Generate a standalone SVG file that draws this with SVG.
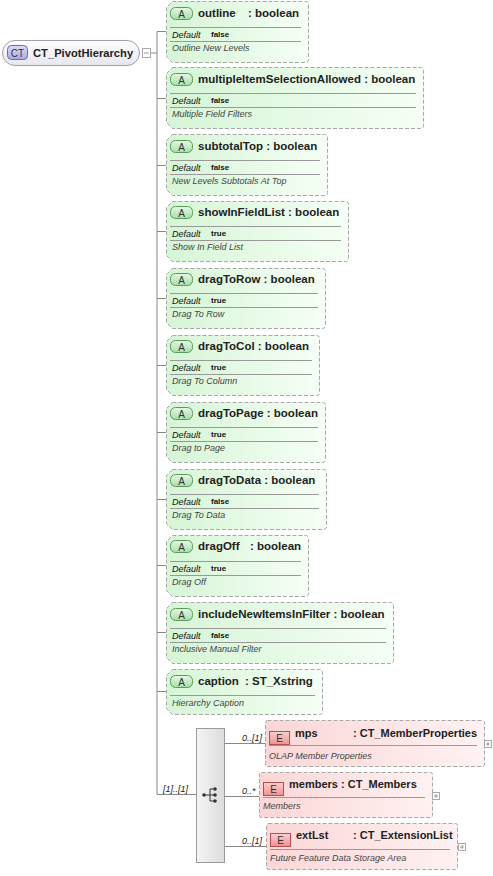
<svg xmlns="http://www.w3.org/2000/svg" width="493" height="876" viewBox="0 0 493 876">
<defs>
<linearGradient id="gA" x1="0" y1="0" x2="1" y2="0"><stop offset="0" stop-color="#d6f5d6"/><stop offset="1" stop-color="#f6fff6"/></linearGradient>
<linearGradient id="gE" x1="0" y1="0" x2="1" y2="0"><stop offset="0" stop-color="#fbd6d6"/><stop offset="1" stop-color="#fff2f2"/></linearGradient>
<linearGradient id="gBA" x1="0" y1="0" x2="0" y2="1"><stop offset="0" stop-color="#e4fae4"/><stop offset="1" stop-color="#a8dca8"/></linearGradient>
<linearGradient id="gBE" x1="0" y1="0" x2="0" y2="1"><stop offset="0" stop-color="#fcd0d0"/><stop offset="1" stop-color="#f09090"/></linearGradient>
<linearGradient id="gCT" x1="0" y1="0" x2="0" y2="1"><stop offset="0" stop-color="#dcdcfa"/><stop offset="1" stop-color="#a8a8e6"/></linearGradient>
<linearGradient id="gRoot" x1="0" y1="0" x2="0" y2="1"><stop offset="0" stop-color="#ffffff"/><stop offset="1" stop-color="#e6e6f0"/></linearGradient>
<linearGradient id="gSeq" x1="0" y1="0" x2="1" y2="0"><stop offset="0" stop-color="#f4f4f4"/><stop offset="1" stop-color="#dcdcdc"/></linearGradient>
</defs>
<style>
.ab{fill:url(#gA);stroke:#a8a8a8;stroke-width:1;stroke-dasharray:4,2}
.eb{fill:url(#gE);stroke:#a8a8a8;stroke-width:1;stroke-dasharray:4,2}
.ba{fill:url(#gBA);stroke:#5a9a5a;stroke-width:1}
.be{fill:url(#gBE);stroke:#b05050;stroke-width:1}
.bt{font-family:"Liberation Sans",Arial,sans-serif;font-size:10px;fill:#333;text-anchor:middle}
.hd{font-family:"Liberation Sans",Arial,sans-serif;font-size:11.5px;font-weight:bold;fill:#222}
.hr{font-family:"Liberation Sans",Arial,sans-serif;font-size:11.2px;font-weight:bold;fill:#222}
.he{font-family:"Liberation Sans",Arial,sans-serif;font-size:11px;font-weight:bold;fill:#222}
.sep{stroke:#999;stroke-width:1}
.df{font-family:"Liberation Sans",Arial,sans-serif;font-size:9px;font-style:italic;fill:#111}
.dv{font-family:"Liberation Sans",Arial,sans-serif;font-size:8px;font-weight:bold;fill:#111}
.ds{font-family:"Liberation Sans",Arial,sans-serif;font-size:9px;font-style:italic;fill:#444}
.cn{stroke:#888;stroke-width:1;fill:none}
.lb{font-family:"Liberation Sans",Arial,sans-serif;font-size:9px;font-style:italic;fill:#222}
.pl{fill:#fff;stroke:#aaa;stroke-width:1}
.pls{stroke:#999;stroke-width:1}
</style>

<g id="connectors">
<line class="cn" x1="151" y1="53" x2="157" y2="53"/>
<line class="cn" x1="157" y1="31.5" x2="157" y2="794.5"/>
<line class="cn" x1="157" y1="31.5" x2="166" y2="31.5"/>
<line class="cn" x1="157" y1="98.5" x2="166" y2="98.5"/>
<line class="cn" x1="157" y1="165.5" x2="166" y2="165.5"/>
<line class="cn" x1="157" y1="231.5" x2="166" y2="231.5"/>
<line class="cn" x1="157" y1="298.5" x2="166" y2="298.5"/>
<line class="cn" x1="157" y1="365.5" x2="166" y2="365.5"/>
<line class="cn" x1="157" y1="432.5" x2="166" y2="432.5"/>
<line class="cn" x1="157" y1="499.5" x2="166" y2="499.5"/>
<line class="cn" x1="157" y1="565.5" x2="166" y2="565.5"/>
<line class="cn" x1="157" y1="632.5" x2="166" y2="632.5"/>
<line class="cn" x1="157" y1="691.5" x2="166" y2="691.5"/>
<line class="cn" x1="157" y1="794.5" x2="196" y2="794.5"/>
<text class="lb" x="163" y="792">[1]..[1]</text>
<line class="cn" x1="225" y1="743.5" x2="265" y2="743.5"/>
<text class="lb" x="242" y="741">0..[1]</text>
<line class="cn" x1="225" y1="796.5" x2="259" y2="796.5"/>
<text class="lb" x="242" y="794">0..*</text>
<line class="cn" x1="225" y1="846.5" x2="266" y2="846.5"/>
<text class="lb" x="242" y="844">0..[1]</text>
</g>

<g id="CT_PivotHierarchy">
<rect x="2.5" y="40.5" width="137" height="25" rx="12.5" fill="url(#gRoot)" stroke="#a0a0b0"/>
<rect x="7.5" y="45.5" width="20" height="14" rx="4" fill="url(#gCT)" stroke="#6a6ab0"/>
<text class="bt" x="17.5" y="56.5">CT</text>
<text class="hr" x="33" y="57">CT_PivotHierarchy</text>
<rect x="142.5" y="48.5" width="8" height="9" fill="#fff" stroke="#aaa"/>
<line class="pls" x1="144" y1="53" x2="149" y2="53"/>
</g>

<g id="outline">
<path class="ab" d="M172.5,1.5 H305.5 Q308.5,1.5 308.5,4.5 V59.5 Q308.5,62.5 305.5,62.5 H172.5 L166.5,56.5 V7.5 Z"/>
<rect class="ba" x="170.5" y="7.5" width="22" height="12" rx="5"/>
<text class="bt" x="181.5" y="17.5">A</text>
<text class="hd" x="198" y="17">outline</text><text class="hd" x="248" y="17">: boolean</text>
<line class="sep" x1="170" y1="27.5" x2="301" y2="27.5"/>
<text class="df" x="172" y="38">Default</text><text class="dv" x="211" y="37">false</text>
<line class="sep" x1="170" y1="41.5" x2="301" y2="41.5"/>
<text class="ds" x="172" y="51">Outline New Levels</text>
</g>

<g id="multipleItemSelectionAllowed">
<path class="ab" d="M172.5,67.5 H420.5 Q423.5,67.5 423.5,70.5 V125.5 Q423.5,128.5 420.5,128.5 H172.5 L166.5,122.5 V73.5 Z"/>
<rect class="ba" x="170.5" y="73.5" width="22" height="12" rx="5"/>
<text class="bt" x="181.5" y="83.5">A</text>
<text class="hd" x="198" y="83">multipleItemSelectionAllowed : boolean</text>
<line class="sep" x1="170" y1="93.5" x2="416" y2="93.5"/>
<text class="df" x="172" y="104">Default</text><text class="dv" x="211" y="103">false</text>
<line class="sep" x1="170" y1="107.5" x2="416" y2="107.5"/>
<text class="ds" x="172" y="117">Multiple Field Filters</text>
</g>

<g id="subtotalTop">
<path class="ab" d="M172.5,134.5 H324.5 Q327.5,134.5 327.5,137.5 V192.5 Q327.5,195.5 324.5,195.5 H172.5 L166.5,189.5 V140.5 Z"/>
<rect class="ba" x="170.5" y="140.5" width="22" height="12" rx="5"/>
<text class="bt" x="181.5" y="150.5">A</text>
<text class="hd" x="198" y="150">subtotalTop : boolean</text>
<line class="sep" x1="170" y1="160.5" x2="320" y2="160.5"/>
<text class="df" x="172" y="171">Default</text><text class="dv" x="211" y="170">false</text>
<line class="sep" x1="170" y1="174.5" x2="320" y2="174.5"/>
<text class="ds" x="172" y="184">New Levels Subtotals At Top</text>
</g>

<g id="showInFieldList">
<path class="ab" d="M172.5,201.5 H345.5 Q348.5,201.5 348.5,204.5 V258.5 Q348.5,261.5 345.5,261.5 H172.5 L166.5,255.5 V207.5 Z"/>
<rect class="ba" x="170.5" y="206.5" width="22" height="12" rx="5"/>
<text class="bt" x="181.5" y="216.5">A</text>
<text class="hd" x="198" y="216">showInFieldList : boolean</text>
<line class="sep" x1="170" y1="226.5" x2="341" y2="226.5"/>
<text class="df" x="172" y="237">Default</text><text class="dv" x="211" y="236">true</text>
<line class="sep" x1="170" y1="240.5" x2="341" y2="240.5"/>
<text class="ds" x="172" y="250">Show In Field List</text>
</g>

<g id="dragToRow">
<path class="ab" d="M172.5,268.5 H322.5 Q325.5,268.5 325.5,271.5 V325.5 Q325.5,328.5 322.5,328.5 H172.5 L166.5,322.5 V274.5 Z"/>
<rect class="ba" x="170.5" y="273.5" width="22" height="12" rx="5"/>
<text class="bt" x="181.5" y="283.5">A</text>
<text class="hd" x="198" y="283">dragToRow : boolean</text>
<line class="sep" x1="170" y1="293.5" x2="318" y2="293.5"/>
<text class="df" x="172" y="304">Default</text><text class="dv" x="211" y="303">true</text>
<line class="sep" x1="170" y1="307.5" x2="318" y2="307.5"/>
<text class="ds" x="172" y="317">Drag To Row</text>
</g>

<g id="dragToCol">
<path class="ab" d="M172.5,335.5 H316.5 Q319.5,335.5 319.5,338.5 V392.5 Q319.5,395.5 316.5,395.5 H172.5 L166.5,389.5 V341.5 Z"/>
<rect class="ba" x="170.5" y="340.5" width="22" height="12" rx="5"/>
<text class="bt" x="181.5" y="350.5">A</text>
<text class="hd" x="198" y="350">dragToCol : boolean</text>
<line class="sep" x1="170" y1="360.5" x2="312" y2="360.5"/>
<text class="df" x="172" y="371">Default</text><text class="dv" x="211" y="370">true</text>
<line class="sep" x1="170" y1="374.5" x2="312" y2="374.5"/>
<text class="ds" x="172" y="384">Drag To Column</text>
</g>

<g id="dragToPage">
<path class="ab" d="M172.5,402.5 H322.5 Q325.5,402.5 325.5,405.5 V459.5 Q325.5,462.5 322.5,462.5 H172.5 L166.5,456.5 V408.5 Z"/>
<rect class="ba" x="170.5" y="407.5" width="22" height="12" rx="5"/>
<text class="bt" x="181.5" y="417.5">A</text>
<text class="hd" x="198" y="417">dragToPage : boolean</text>
<line class="sep" x1="170" y1="427.5" x2="318" y2="427.5"/>
<text class="df" x="172" y="438">Default</text><text class="dv" x="211" y="437">true</text>
<line class="sep" x1="170" y1="441.5" x2="318" y2="441.5"/>
<text class="ds" x="172" y="451">Drag to Page</text>
</g>

<g id="dragToData">
<path class="ab" d="M172.5,469.5 H323.5 Q326.5,469.5 326.5,472.5 V526.5 Q326.5,529.5 323.5,529.5 H172.5 L166.5,523.5 V475.5 Z"/>
<rect class="ba" x="170.5" y="474.5" width="22" height="12" rx="5"/>
<text class="bt" x="181.5" y="484.5">A</text>
<text class="hd" x="198" y="484">dragToData : boolean</text>
<line class="sep" x1="170" y1="494.5" x2="319" y2="494.5"/>
<text class="df" x="172" y="505">Default</text><text class="dv" x="211" y="504">false</text>
<line class="sep" x1="170" y1="508.5" x2="319" y2="508.5"/>
<text class="ds" x="172" y="518">Drag To Data</text>
</g>

<g id="dragOff">
<path class="ab" d="M172.5,535.5 H305.5 Q308.5,535.5 308.5,538.5 V593.5 Q308.5,596.5 305.5,596.5 H172.5 L166.5,590.5 V541.5 Z"/>
<rect class="ba" x="170.5" y="540.5" width="22" height="12" rx="5"/>
<text class="bt" x="181.5" y="550.5">A</text>
<text class="hd" x="198" y="550">dragOff</text><text class="hd" x="250" y="550">: boolean</text>
<line class="sep" x1="170" y1="561.5" x2="301" y2="561.5"/>
<text class="df" x="172" y="572">Default</text><text class="dv" x="211" y="571">true</text>
<line class="sep" x1="170" y1="575.5" x2="301" y2="575.5"/>
<text class="ds" x="172" y="585">Drag Off</text>
</g>

<g id="includeNewItemsInFilter">
<path class="ab" d="M172.5,602.5 H390.5 Q393.5,602.5 393.5,605.5 V660.5 Q393.5,663.5 390.5,663.5 H172.5 L166.5,657.5 V608.5 Z"/>
<rect class="ba" x="170.5" y="608.5" width="22" height="12" rx="5"/>
<text class="bt" x="181.5" y="618.5">A</text>
<text class="hd" x="198" y="618">includeNewItemsInFilter : boolean</text>
<line class="sep" x1="170" y1="628.5" x2="386" y2="628.5"/>
<text class="df" x="172" y="639">Default</text><text class="dv" x="211" y="638">false</text>
<line class="sep" x1="170" y1="642.5" x2="386" y2="642.5"/>
<text class="ds" x="172" y="652">Inclusive Manual Filter</text>
</g>

<g id="caption">
<path class="ab" d="M172.5,669.5 H319.5 Q322.5,669.5 322.5,672.5 V711.5 Q322.5,714.5 319.5,714.5 H172.5 L166.5,708.5 V675.5 Z"/>
<rect class="ba" x="170.5" y="675.5" width="22" height="12" rx="5"/>
<text class="bt" x="181.5" y="685.5">A</text>
<text class="hd" x="198" y="685">caption</text><text class="hd" x="245" y="685">: ST_Xstring</text>
<line class="sep" x1="170" y1="695.5" x2="315" y2="695.5"/>
<text class="ds" x="172" y="706">Hierarchy Caption</text>
</g>

<g id="sequence">
<rect x="196.5" y="728.5" width="28" height="134" fill="url(#gSeq)" stroke="#9a9a9a"/>
<line x1="204" y1="795" x2="210" y2="795" stroke="#333"/>
<line x1="210" y1="789" x2="210" y2="801" stroke="#333"/>
<line x1="210" y1="789" x2="214" y2="789" stroke="#333"/>
<line x1="210" y1="801" x2="214" y2="801" stroke="#333"/>
<line x1="210" y1="795" x2="214" y2="795" stroke="#333"/>
<circle cx="204" cy="795" r="1.8" fill="#333"/>
<circle cx="215" cy="789" r="1.8" fill="#333"/>
<circle cx="215" cy="795" r="1.8" fill="#333"/>
<circle cx="215" cy="801" r="1.8" fill="#333"/>
</g>

<g id="mps">
<rect class="eb" x="265.5" y="720.5" width="219" height="46" rx="2"/>
<rect class="be" x="269.5" y="731.5" width="20" height="13"/>
<text class="bt" x="279.5" y="742">E</text>
<text class="he" x="295" y="737">mps</text><text class="he" x="353" y="737">: CT_MemberProperties</text>
<line class="sep" x1="269" y1="745.5" x2="477" y2="745.5"/>
<text class="ds" x="269" y="759">OLAP Member Properties</text>
<rect class="pl" x="484.5" y="740.5" width="7" height="7"/>
<line class="pls" x1="486" y1="744" x2="490" y2="744"/><line class="pls" x1="488" y1="742" x2="488" y2="746"/>
</g>

<g id="members">
<rect class="eb" x="259.5" y="772.5" width="173" height="45" rx="2"/>
<rect class="be" x="263.5" y="782.5" width="20" height="13"/>
<text class="bt" x="273.5" y="793">E</text>
<text class="he" x="289" y="788">members : CT_Members</text>
<line class="sep" x1="263" y1="797.5" x2="425" y2="797.5"/>
<text class="ds" x="263" y="809">Members</text>
<rect class="pl" x="432.5" y="792.5" width="7" height="7"/>
<line class="pls" x1="434" y1="796" x2="438" y2="796"/><line class="pls" x1="436" y1="794" x2="436" y2="798"/>
</g>

<g id="extLst">
<rect class="eb" x="266.5" y="823.5" width="191" height="46" rx="2"/>
<rect class="be" x="270.5" y="833.5" width="20" height="13"/>
<text class="bt" x="280.5" y="844">E</text>
<text class="he" x="296" y="839">extLst</text><text class="he" x="353" y="839">: CT_ExtensionList</text>
<line class="sep" x1="270" y1="849.5" x2="450" y2="849.5"/>
<text class="ds" x="270" y="861">Future Feature Data Storage Area</text>
<rect class="pl" x="458.5" y="843.5" width="7" height="7"/>
<line class="pls" x1="460" y1="847" x2="464" y2="847"/><line class="pls" x1="462" y1="845" x2="462" y2="849"/>
</g>
</svg>
